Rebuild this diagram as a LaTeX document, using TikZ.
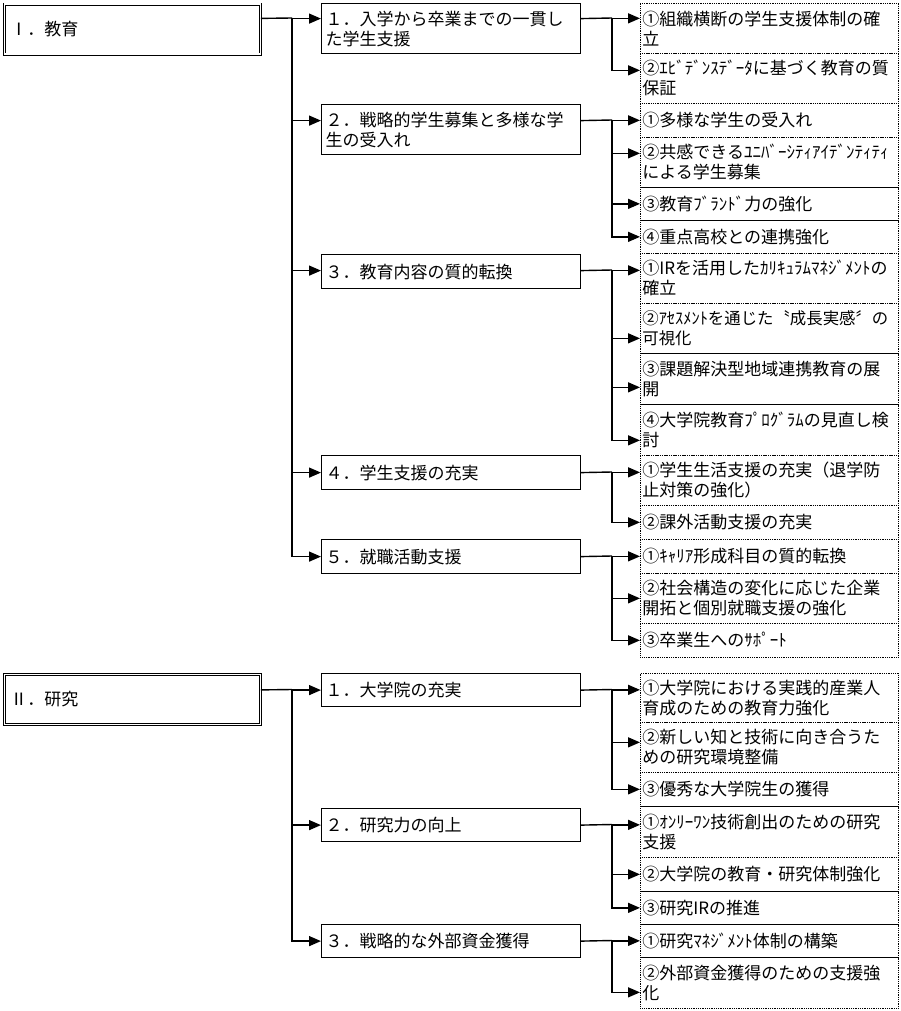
\documentclass[tikz,border=0pt]{standalone}
\usepackage{fontspec}
\setmainfont{Noto Sans CJK JP}
\usetikzlibrary{arrows.meta}

\tikzset{
  headbox/.style={draw,line width=0.8pt,double,double distance=1.8pt,anchor=north west,
    minimum width=256,minimum height=50,text width=244,inner xsep=6pt,align=left},
  midbox/.style={draw,line width=1.2pt,anchor=north west,minimum height=34,
    text width=251,inner xsep=4pt,inner ysep=0pt,align=left},
  itembox/.style={draw,line width=0.7pt,dash pattern=on 0.9pt off 0.9pt,anchor=north west,
    minimum height=34,text width=254,inner xsep=2pt,inner ysep=0pt,align=left},
  link/.style={draw,line width=1.4pt},
  arr/.style={link,-{Triangle[length=12pt,width=10pt]}}
}

\begin{document}
\begin{tikzpicture}[x=1pt,y=-1pt,font=\fontsize{17}{20}\selectfont]
% 900 x 1011, two trees
\useasboundingbox (0,0) rectangle (900,1011);
\node[headbox] (lvI) at (4,4) {Ⅰ．教育};
\node[midbox,minimum height=50] (b1) at (321,3) {１．入学から卒業までの一貫し\\た学生支援};
\node[midbox,minimum height=50] (b2) at (321,104) {２．戦略的学生募集と多様な学\\生の受入れ};
\node[midbox] (b3) at (321,254) {３．教育内容の質的転換};
\node[midbox] (b4) at (321,455) {４．学生支援の充実};
\node[midbox] (b5) at (321,539) {５．就職活動支援};
\node[itembox,minimum height=50] (c11) at (640,3) {①組織横断の学生支援体制の確\\立};
\node[itembox,minimum height=50] (c12) at (640,53) {②ｴﾋﾞﾃﾞﾝｽﾃﾞｰﾀに基づく教育の質\\保証};
\node[itembox] (c21) at (640,103) {①多様な学生の受入れ};
\node[itembox,minimum height=50] (c22) at (640,137) {②共感できるﾕﾆﾊﾞｰｼﾃｨｱｲﾃﾞﾝﾃｨﾃｨ\\による学生募集};
\node[itembox,minimum height=33] (c23) at (640,187) {③教育ﾌﾞﾗﾝﾄﾞ力の強化};
\node[itembox,minimum height=33] (c24) at (640,220) {④重点高校との連携強化};
\node[itembox,minimum height=50] (c31) at (640,253) {①IRを活用したｶﾘｷｭﾗﾑﾏﾈｼﾞﾒﾝﾄの\\確立};
\node[itembox,minimum height=50,font=\fontsize{16.4}{20}\selectfont] (c32) at (640,303) {②ｱｾｽﾒﾝﾄを通じた〝成長実感〞の\\可視化};
\node[itembox,minimum height=51] (c33) at (640,353) {③課題解決型地域連携教育の展\\開};
\node[itembox,minimum height=51] (c34) at (640,404) {④大学院教育ﾌﾟﾛｸﾞﾗﾑの見直し検\\討};
\node[itembox,minimum height=50] (c41) at (640,455) {①学生生活支援の充実（退学防\\止対策の強化）};
\node[itembox] (c42) at (640,505) {②課外活動支援の充実};
\node[itembox] (c51) at (640,539) {①ｷｬﾘｱ形成科目の質的転換};
\node[itembox,minimum height=50] (c52) at (640,573) {②社会構造の変化に応じた企業\\開拓と個別就職支援の強化};
\node[itembox] (c53) at (640,623) {③卒業生へのｻﾎﾟｰﾄ};
\coordinate (jI) at (292,18);
\coordinate (k1) at (612,18);
\coordinate (k2) at (612,120);
\coordinate (k3) at (612,270);
\coordinate (k4) at (612,472);
\coordinate (k5) at (612,556);
\path[link] ([yshift=11pt]lvI.east) -- (jI);
\path[arr] (jI) |- ([yshift=10pt]b1.west);
\path[arr] (jI) |- ([yshift=9pt]b2.west);
\path[arr] (jI) |- ([yshift=1pt]b3.west);
\path[arr] (jI) |- (b4.west);
\path[arr] (jI) |- (b5.west);
\path[link] ([yshift=10pt]b1.east) -- (k1);
\path[arr] (k1) |- ([yshift=10pt]c11.west);
\path[arr] (k1) |- ([yshift=8pt]c12.west);
\path[link] ([yshift=9pt]b2.east) -- (k2);
\path[arr] (k2) |- (c21.west);
\path[arr] (k2) |- ([yshift=9pt]c22.west);
\path[arr] (k2) |- (c23.west);
\path[arr] (k2) |- (c24.west);
\path[link] ([yshift=1pt]b3.east) -- (k3);
\path[arr] (k3) |- ([yshift=8pt]c31.west);
\path[arr] (k3) |- ([yshift=-10pt]c32.west);
\path[arr] (k3) |- ([yshift=-8.5pt]c33.west);
\path[arr] (k3) |- ([yshift=-10.5pt]c34.west);
\path[link] (b4.east) -- (k4);
\path[arr] (k4) |- ([yshift=8pt]c41.west);
\path[arr] (k4) |- (c42.west);
\path[link] (b5.east) -- (k5);
\path[arr] (k5) |- (c51.west);
\path[arr] (k5) |- (c52.west);
\path[arr] (k5) |- (c53.west);
\node[headbox] (lvII) at (4,674) {Ⅱ．研究};
\node[midbox,minimum height=33] (d1) at (321,673) {１．大学院の充実};
\node[midbox,minimum height=33] (d2) at (321,808) {２．研究力の向上};
\node[midbox,minimum height=33] (d3) at (321,924) {３．戦略的な外部資金獲得};
\node[itembox,minimum height=49] (e11) at (640,673) {①大学院における実践的産業人\\育成のための教育力強化};
\node[itembox,minimum height=50] (e12) at (640,722) {②新しい知と技術に向き合うた\\めの研究環境整備};
\node[itembox] (e13) at (640,772) {③優秀な大学院生の獲得};
\node[itembox,minimum height=51] (e21) at (640,806) {①ｵﾝﾘｰﾜﾝ技術創出のための研究\\支援};
\node[itembox] (e22) at (640,857) {②大学院の教育・研究体制強化};
\node[itembox,minimum height=33] (e23) at (640,891) {③研究IRの推進};
\node[itembox,minimum height=33] (e31) at (640,924) {①研究ﾏﾈｼﾞﾒﾝﾄ体制の構築};
\node[itembox,minimum height=51] (e32) at (640,957) {②外部資金獲得のための支援強\\化};
\coordinate (jII) at (292,689.5);
\coordinate (m1) at (612,689.5);
\coordinate (m2) at (612,824.5);
\coordinate (m3) at (612,940.5);
\path[link] ([yshift=9.5pt]lvII.east) -- (jII);
\path[arr] (jII) |- (d1.west);
\path[arr] (jII) |- (d2.west);
\path[arr] (jII) |- (d3.west);
\path[link] (d1.east) -- (m1);
\path[arr] (m1) |- ([yshift=8pt]e11.west);
\path[arr] (m1) |- ([yshift=5pt]e12.west);
\path[arr] (m1) |- (e13.west);
\path[link] (d2.east) -- (m2);
\path[arr] (m2) |- ([yshift=7pt]e21.west);
\path[arr] (m2) |- (e22.west);
\path[arr] (m2) |- (e23.west);
\path[link] (d3.east) -- (m3);
\path[arr] (m3) |- (e31.west);
\path[arr] (m3) |- ([yshift=-9.5pt]e32.west);
\end{tikzpicture}
\end{document}
